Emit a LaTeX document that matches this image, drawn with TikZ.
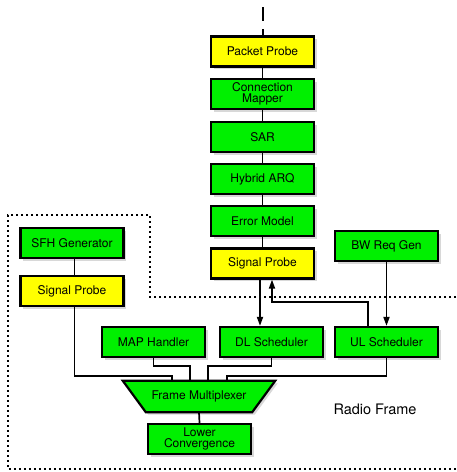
\documentclass[tikz,border=0pt]{standalone}
\usepackage{fontspec}
\setmainfont{TeX Gyre Heros}
\usetikzlibrary{shadows,arrows.meta}
\definecolor{boxgreen}{RGB}{0,240,0}
\definecolor{boxyellow}{RGB}{255,255,0}
\tikzset{
  blk/.style={draw=black, line width=2.2pt, minimum width=103pt, minimum height=30pt,
    inner sep=0pt, align=center, font=\fontsize{12}{10.5}\selectfont,
    drop shadow={shadow xshift=2.5pt, shadow yshift=-2.5pt, opacity=0.3}},
  gbox/.style={blk, fill=boxgreen},
  ybox/.style={blk, fill=boxyellow},
  conn/.style={line width=1.7pt},
  arr/.style={line width=1.7pt, -{Triangle[length=9pt,width=6pt]}},
  frame/.style={line width=2pt, dash pattern=on 2pt off 3pt},
}
\begin{document}
\begin{tikzpicture}[x=1pt,y=-1pt]
\useasboundingbox (0,0) rectangle (456,472);
\fill[white] (0,0) rectangle (456,472);
% dotted radio frame border
\draw[frame] (456,297) -- (150,297) -- (150,215) -- (8,215) -- (8,469) -- (456,469);
% nodes
\node[ybox] (pp) at (262.5,51.5) {Packet Probe};
\node[gbox] (cm) at (262.5,94) {Connection\\Mapper};
\node[gbox] (sar) at (262.5,137) {SAR};
\node[gbox] (harq) at (262.5,179) {Hybrid ARQ};
\node[gbox] (em) at (262.5,221) {Error Model};
\node[ybox] (sp) at (262.5,263.5) {Signal Probe};
\node[gbox] (sfh) at (72,243) {SFH Generator};
\node[ybox] (spl) at (72,291) {Signal Probe};
\node[gbox] (bw) at (386.5,246) {BW Req Gen};
\node[gbox] (map) at (153.5,342) {MAP Handler};
\node[gbox] (dl) at (271.5,342) {DL Scheduler};
\node[gbox] (ul) at (386.5,342) {UL Scheduler};
\node[minimum width=152pt, minimum height=31pt, inner sep=0pt] (fm) at (199,396.5) {};
\fill[boxgreen, drop shadow={shadow xshift=2.5pt, shadow yshift=-2.5pt, opacity=0.3}]
  (fm.north west) -- (fm.north east) -- ([xshift=-23pt]fm.south east) -- ([xshift=23pt]fm.south west) -- cycle;
\draw[line width=2.2pt, line join=miter]
  (fm.north west) -- (fm.north east) -- ([xshift=-23pt]fm.south east) -- ([xshift=23pt]fm.south west) -- cycle;
\node[font=\fontsize{12}{10.5}\selectfont] at (fm.center) {Frame Multiplexer};
\node[gbox] (lc) at (199.5,439) {Lower\\Convergence};
\node[font=\fontsize{14.5}{16}\selectfont] (rf) at (375,409) {Radio Frame};
% top dashed input
\coordinate (top) at (262.5,7);
\draw[line width=2pt, dash pattern=on 14pt off 8pt] (top) -- (pp.north);
% central chain
\draw[conn] (pp.south) -- (cm.north);
\draw[conn] (cm.south) -- (sar.north);
\draw[conn] (sar.south) -- (harq.north);
\draw[conn] (harq.south) -- (em.north);
\draw[conn] (em.south) -- (sp.north);
\draw[conn] ([xshift=2.5pt]sfh.south) -- ([xshift=2.5pt]spl.north);
% arrows
\coordinate (spd) at ([xshift=-2.5pt]sp.south);
\draw[arr] (spd) -- (spd |- dl.north);
\coordinate (ulu) at ([xshift=-18.5pt]ul.north);
\coordinate (spu) at ([xshift=9.5pt]sp.south);
\draw[arr] (ulu) -- ++(0,-24) -| (spu);
\draw[arr] (bw.south) -- (ul.north);
% into frame multiplexer
\coordinate (f1) at ([xshift=-27pt]fm.north);
\coordinate (f2) at ([xshift=-9pt]fm.north);
\coordinate (f3) at ([xshift=9pt]fm.north);
\coordinate (f4) at ([xshift=28pt]fm.north);
\draw[conn] ([xshift=2.5pt]spl.south) |- ([yshift=5pt]f1) -- (f1);
\draw[conn] (map.south) |- ([yshift=15pt]f2) -- (f2);
\draw[conn] (dl.south) |- ([yshift=15pt]f3) -- (f3);
\draw[conn] (ul.south) |- ([yshift=5pt]f4) -- (f4);
\draw[conn] (fm.south) -- (lc.north);
\end{tikzpicture}
\end{document}
